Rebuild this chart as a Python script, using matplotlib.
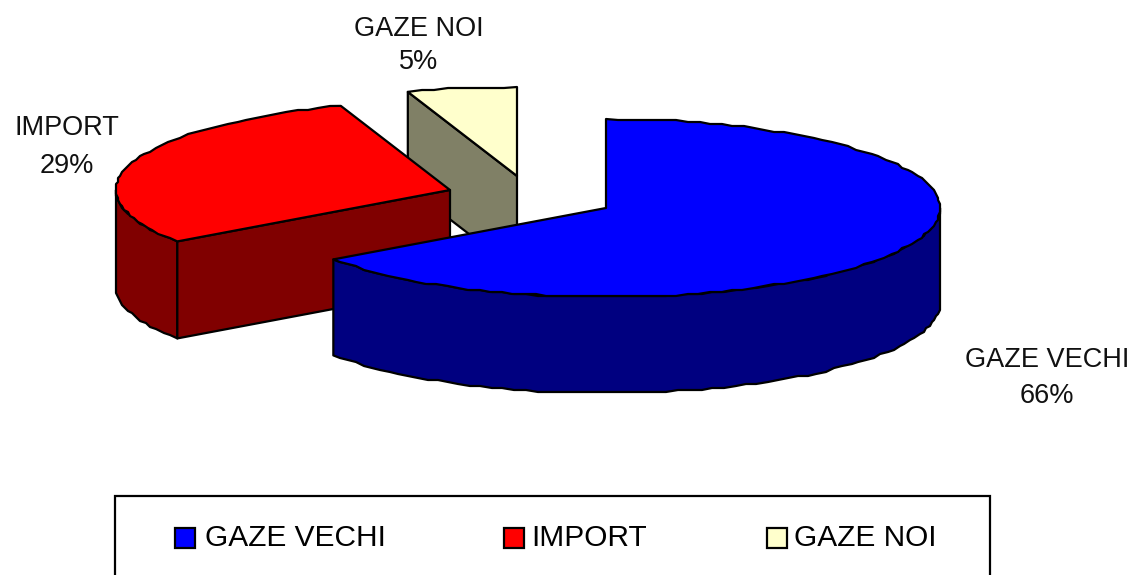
import numpy as np
import matplotlib
matplotlib.use('Agg')
import matplotlib.pyplot as plt
from matplotlib.patches import Rectangle

categories = ['GAZE VECHI', 'IMPORT', 'GAZE NOI']
slice_sizes = [65.2, 29.5, 5.3]
printed_percent = ['66%', '29%', '5%']

top_colours = ['#0000FF', '#FF0000', '#FFFFCC']
wall_colours = ['#000080', '#800000', '#808066']
centres = [(606, 208), (450, 190), (517, 176)]
depths = [96, 97, 95]
label_x = [1047, 67, 419]
label_name_y = [360, 128, 29]
label_pct_y = [396, 166, 62]
legend_x = [175, 504, 767]
legend_text_x = [205, 531, 794]

rx, ry = 334, 89
edge = dict(edgecolor='black', linewidth=1.6, joinstyle='round')

plt.rcParams['font.family'] = ['Liberation Sans', 'DejaVu Sans']
fig = plt.figure(figsize=(11.36, 5.75), dpi=100, facecolor='white')
ax = fig.add_axes([0, 0, 1, 1])
ax.set_xlim(0, 1136)
ax.set_ylim(575, 0)
ax.axis('off')


def rim(c, a0, a1):
	#points of the rim, angles clockwise from the top; snapped so the edge is rough like the original
	n = max(int(abs(a1 - a0) / 2), 2)
	t = np.radians(np.linspace(a0, a1, n))
	x = c[0] + rx * np.sin(t)
	y = c[1] - ry * np.cos(t)
	x[1:-1] = np.round(x[1:-1] / 2) * 2
	y[1:-1] = np.round(y[1:-1] / 2) * 2
	return x, y


starts = np.cumsum([0] + slice_sizes[:-1]) * 3.6
ends = np.cumsum(slice_sizes) * 3.6

#back to front: yellow, red, blue
for i in [2, 1, 0]:
	c = centres[i]
	depth = depths[i]
	a0, a1 = starts[i], ends[i]
	z = i * -3 + 10

	#wall, only the part of the rim facing the viewer
	w0, w1 = max(a0, 90), min(a1, 270)
	if w1 > w0:
		x, y = rim(c, w0, w1)
		ax.fill(np.r_[x, x[::-1]], np.r_[y, y[::-1] + depth], facecolor=wall_colours[i], zorder=z, **edge)

	#radial cut face, blue hides its own
	if i > 0:
		x, y = rim(c, a0, a0)
		ax.fill([c[0], x[0], x[0], c[0]], [c[1], y[0], y[0] + depth, c[1] + depth],
			facecolor=wall_colours[i], zorder=z, **edge)

	#top face
	x, y = rim(c, a0, a1)
	ax.fill(np.r_[c[0], x], np.r_[c[1], y], facecolor=top_colours[i], zorder=z + 1, **edge)

#data labels
for i in range(3):
	ax.text(label_x[i], label_name_y[i], categories[i], fontsize=19.5, color='#111111', ha='center', va='center', zorder=20)
	ax.text(label_x[i], label_pct_y[i], printed_percent[i], fontsize=19.5, color='#111111', ha='center', va='center', zorder=20)

#legend box runs off the bottom of the picture
ax.add_patch(Rectangle((115, 496), 875, 100, facecolor='white', edgecolor='black', linewidth=1.6, zorder=20))
for i in range(3):
	ax.add_patch(Rectangle((legend_x[i], 528), 20, 20, facecolor=top_colours[i], edgecolor='black', linewidth=1.6, zorder=21))
	ax.text(legend_text_x[i], 538, categories[i], fontsize=21.5, color='black', ha='left', va='center', zorder=21)

fig.savefig('out.png', dpi=100)
